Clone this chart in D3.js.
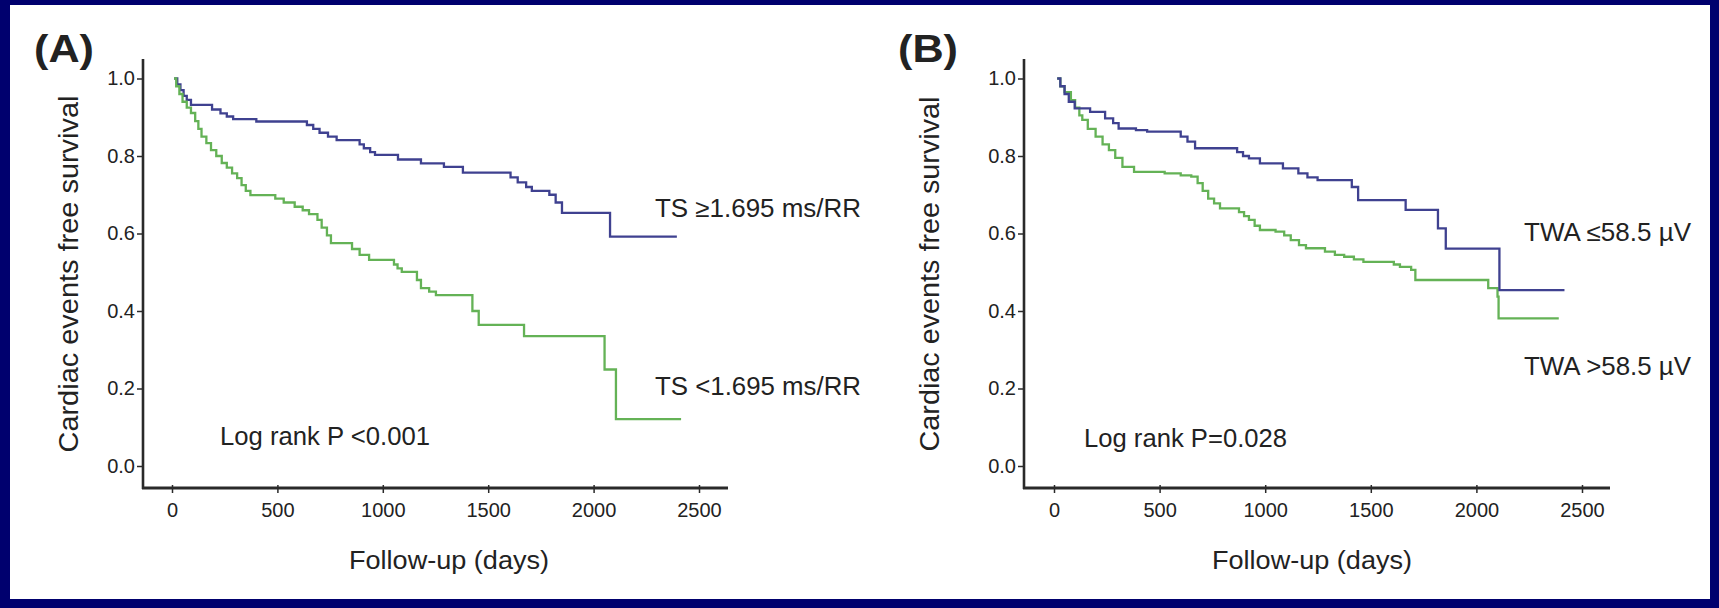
<!DOCTYPE html>
<html><head><meta charset="utf-8">
<script src="https://cdn.jsdelivr.net/npm/d3@7"></script>
<style>
body{margin:0;background:#fff}
svg{display:block}
text{font-family:"Liberation Sans",Arial,Helvetica,sans-serif;fill:#222}
</style>
</head><body>
<svg id="chart" width="1719" height="608"></svg>
<script>
// ---------------- data ----------------
const xTicks = [0, 500, 1000, 1500, 2000, 2500];
const yTicks = [0.0, 0.2, 0.4, 0.6, 0.8, 1.0];
const panelLabels = ["(A)", "(B)"];
const yTitle = "Cardiac events free survival";
const xTitle = "Follow-up (days)";
const pValueLabels = ["Log rank P <0.001", "Log rank P=0.028"];
const seriesNamesA = ["TS \u22651.695 ms/RR", "TS <1.695 ms/RR"];
const seriesNamesB = ["TWA \u226458.5 \u00b5V", "TWA >58.5 \u00b5V"];

// Kaplan-Meier steps: [day, survival after the step]
const tsHigh = [[10,1.0],[25,0.985],[40,0.97],[55,0.955],[70,0.945],[90,0.932],[190,0.92],[230,0.91],[260,0.902],[290,0.895],[400,0.889],[640,0.88],[670,0.87],[700,0.86],[740,0.85],[781,0.841],[890,0.83],[910,0.82],[940,0.81],[963,0.803],[1072,0.791],[1181,0.781],[1290,0.772],[1380,0.757],[1606,0.745],[1640,0.732],[1680,0.72],[1707,0.71],[1790,0.70],[1820,0.68],[1850,0.653],[2078,0.592],[2395,0.592]];
const tsLow = [[10,1.0],[20,0.98],[35,0.96],[50,0.94],[70,0.925],[90,0.911],[110,0.89],[125,0.87],[140,0.85],[163,0.833],[185,0.815],[210,0.80],[236,0.782],[260,0.77],[285,0.755],[309,0.743],[330,0.725],[350,0.71],[372,0.699],[490,0.69],[530,0.68],[582,0.669],[620,0.66],[650,0.65],[690,0.635],[710,0.615],[735,0.595],[754,0.575],[854,0.56],[890,0.545],[935,0.532],[1053,0.52],[1070,0.51],[1090,0.501],[1162,0.48],[1181,0.459],[1220,0.45],[1252,0.441],[1425,0.40],[1455,0.364],[1670,0.335],[2052,0.249],[2106,0.121],[2415,0.121]];
const twaLow = [[15,1.0],[30,0.98],[50,0.96],[70,0.94],[98,0.923],[171,0.914],[242,0.897],[280,0.885],[306,0.871],[388,0.867],[441,0.863],[600,0.85],[632,0.837],[668,0.82],[867,0.81],[895,0.80],[923,0.794],[975,0.781],[1084,0.768],[1157,0.755],[1200,0.745],[1248,0.738],[1410,0.72],[1440,0.686],[1665,0.661],[1818,0.613],[1855,0.561],[2109,0.454],[2417,0.454]];
const twaHigh = [[15,1.0],[30,0.98],[50,0.965],[80,0.944],[100,0.925],[120,0.905],[134,0.893],[160,0.87],[197,0.85],[230,0.83],[260,0.815],[290,0.795],[324,0.772],[379,0.759],[524,0.755],[600,0.75],[650,0.747],[680,0.73],[704,0.71],[730,0.69],[758,0.678],[786,0.665],[876,0.655],[900,0.645],[923,0.635],[950,0.62],[975,0.609],[1049,0.605],[1090,0.595],[1121,0.583],[1160,0.57],[1193,0.562],[1283,0.553],[1330,0.545],[1374,0.54],[1420,0.533],[1465,0.527],[1609,0.52],[1638,0.514],[1691,0.506],[1711,0.48],[2056,0.459],[2100,0.437],[2105,0.381],[2390,0.381]];

// ---------------- drawing ----------------
const svg = d3.select("#chart");
const W = 1719, H = 608;
const navy = "#00006e";
const blue = "#3f4190";
const green = "#64b256";
const ink = "#2a2a2a";

svg.append("rect").attr("width", W).attr("height", H).attr("fill", navy);
svg.append("rect").attr("x", 10).attr("y", 5).attr("width", W - 19).attr("height", H - 14).attr("fill", "#fff");

const panels = [
  {label: panelLabels[0], lx: 34, ly: 62, axX: 143, axTop: 59, axY: 488, axRight: 728, x0: 172, x1: 699,
   ytX: 78, ytY: 274, ytLen: 357, xtX: 449, xtY: 569, pX: 220, pY: 445, pLen: 210,
   series: [{data: tsHigh, color: blue, name: seriesNamesA[0], nx: 655, ny: 217, nLen: 206},
            {data: tsLow, color: green, name: seriesNamesA[1], nx: 655, ny: 395, nLen: 206}],
   pText: pValueLabels[0]},
  {label: panelLabels[1], lx: 898, ly: 62, axX: 1024, axTop: 59, axY: 488, axRight: 1610, x0: 1054, x1: 1582,
   ytX: 939, ytY: 274, ytLen: 355, xtX: 1312, xtY: 569, pX: 1084, pY: 447, pLen: 203,
   series: [{data: twaHigh, color: green, name: seriesNamesB[1], nx: 1524, ny: 375, nLen: 167},
            {data: twaLow, color: blue, name: seriesNamesB[0], nx: 1524, ny: 241, nLen: 167}],
   pText: pValueLabels[1]}
];

panels.forEach(p => {
  const g = svg.append("g");
  const x = d3.scaleLinear().domain([0, 2500]).range([p.x0, p.x1]);
  const y = d3.scaleLinear().domain([0, 1]).range([466, 78.5]);

  // axes lines
  g.append("line").attr("x1", p.axX).attr("x2", p.axX).attr("y1", p.axTop).attr("y2", p.axY + 1)
    .attr("stroke", ink).attr("stroke-width", 2.6);
  g.append("line").attr("x1", p.axX - 1).attr("x2", p.axRight).attr("y1", p.axY).attr("y2", p.axY)
    .attr("stroke", ink).attr("stroke-width", 3);

  const ya = g.append("g").attr("transform", `translate(${p.axX},0)`)
    .call(d3.axisLeft(y).tickValues(yTicks).tickFormat(d3.format(".1f")).tickSize(6).tickPadding(2));
  ya.select(".domain").remove();
  ya.selectAll(".tick line").attr("stroke", ink).attr("stroke-width", 1.5);
  ya.selectAll(".tick text").attr("font-size", 20).attr("fill", ink)
    .style("font-family", '"Liberation Sans",Arial,sans-serif');

  const xa = g.append("g").attr("transform", `translate(0,${p.axY})`)
    .call(d3.axisBottom(x).tickValues(xTicks).tickFormat(d3.format("d")).tickSize(5).tickPadding(10));
  xa.select(".domain").remove();
  xa.selectAll(".tick line").attr("stroke", ink).attr("stroke-width", 1.5).attr("y1", -3);
  xa.selectAll(".tick text").attr("font-size", 20).attr("fill", ink)
    .style("font-family", '"Liberation Sans",Arial,sans-serif');

  // curves
  const line = d3.line().x(d => x(d[0])).y(d => y(d[1])).curve(d3.curveStepAfter);
  p.series.forEach(s => {
    g.append("path").datum(s.data).attr("d", line).attr("fill", "none")
      .attr("stroke", s.color).attr("stroke-width", 2.3);
    g.append("text").attr("x", s.nx).attr("y", s.ny).attr("font-size", 25)
      .attr("textLength", s.nLen).attr("lengthAdjust", "spacingAndGlyphs").text(s.name);
  });

  // texts
  g.append("text").attr("x", p.lx).attr("y", p.ly).attr("font-size", 38).attr("font-weight", "bold")
    .attr("textLength", 60).attr("lengthAdjust", "spacingAndGlyphs").attr("fill", "#111").text(p.label);
  g.append("text").attr("transform", `translate(${p.ytX},${p.ytY}) rotate(-90)`).attr("text-anchor", "middle")
    .attr("font-size", 27).attr("textLength", p.ytLen).attr("lengthAdjust", "spacingAndGlyphs").text(yTitle);
  g.append("text").attr("x", p.xtX).attr("y", p.xtY).attr("text-anchor", "middle")
    .attr("font-size", 26).attr("textLength", 200).attr("lengthAdjust", "spacingAndGlyphs").text(xTitle);
  g.append("text").attr("x", p.pX).attr("y", p.pY).attr("font-size", 25)
    .attr("textLength", p.pLen).attr("lengthAdjust", "spacingAndGlyphs").text(p.pText);
});
</script>
</body></html>
